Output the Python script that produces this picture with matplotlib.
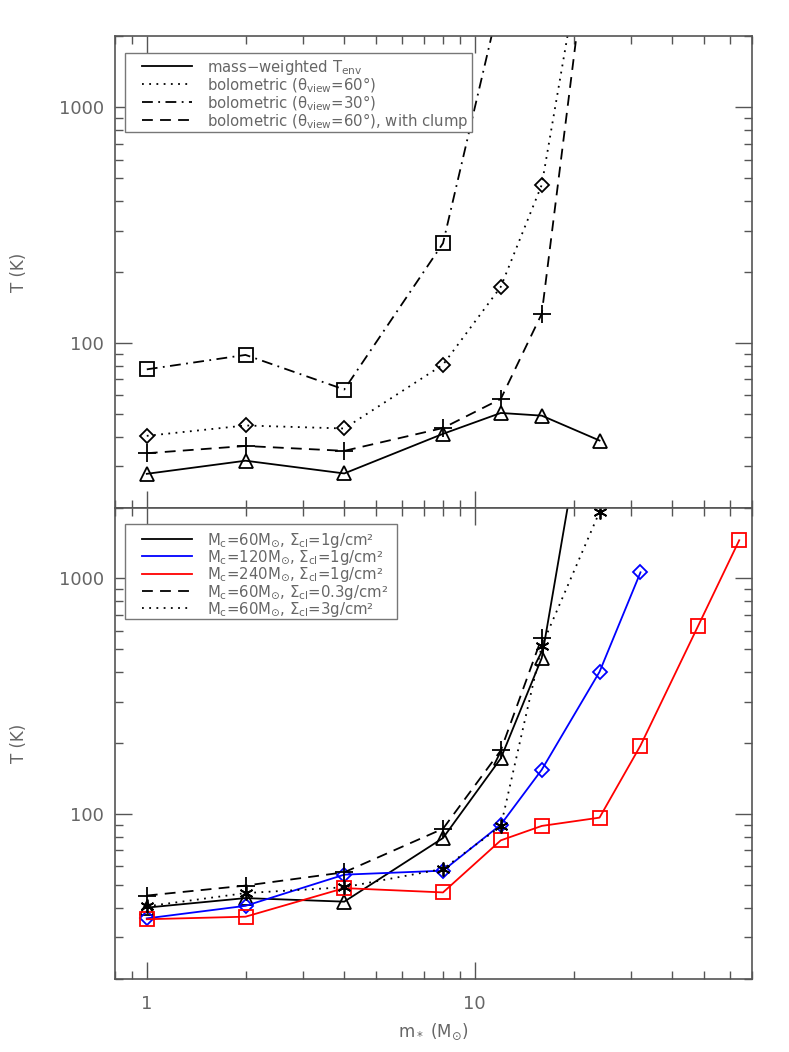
"""
Envelope temperature vs stellar mass, two stacked log-log panels.
"""
import numpy as np
import matplotlib
matplotlib.use("Agg")
import matplotlib.pyplot as plt
from matplotlib.lines import Line2D
from matplotlib.patches import Rectangle
from matplotlib.ticker import LogLocator, NullFormatter, FixedLocator, FixedFormatter

## DATA -------------------------------------------------------------
# top panel: Mc=60 Msun, Sigma=1 g/cm2
m_mw = [1, 2, 4, 8, 12, 16, 24]
T_mw = [27.8, 31.6, 27.9, 41.1, 50.4, 49.1, 38.5]
m_bol60 = [1, 2, 4, 8, 12, 16, 24]
T_bol60 = [40.3, 44.6, 43.3, 80.8, 173, 469, 12300]
m_bol30 = [1, 2, 4, 8, 12]
T_bol30 = [77.2, 88.9, 63.4, 265, 2950]
m_clump = [1, 2, 4, 8, 12, 16, 24]
T_clump = [34.0, 36.5, 34.8, 43.5, 57.8, 133, 12200]

top_labels = [r'mass$-$weighted T$_{\rm env}$',
              r'bolometric ($\theta_{\rm view}$=60°)',
              r'bolometric ($\theta_{\rm view}$=30°)',
              r'bolometric ($\theta_{\rm view}$=60°), with clump']

# bottom panel: bolometric temperatures for different clouds
m_60_1 = [1, 2, 4, 8, 12, 16, 24]
T_60_1 = [40.0, 43.9, 42.4, 79, 172, 459, 12300]
m_120_1 = [1, 2, 4, 8, 12, 16, 24, 32]
T_120_1 = [36.0, 40.7, 55.2, 57.4, 90, 154, 401, 1061]
m_240_1 = [1, 2, 4, 8, 12, 16, 24, 32, 48, 64]
T_240_1 = [35.7, 36.6, 48.4, 46.4, 77.2, 88.9, 96.4, 195, 630, 1452]
m_60_03 = [1, 2, 4, 8, 12, 16]
T_60_03 = [45.0, 49.6, 56.5, 86.5, 186, 560]
m_60_3 = [1, 2, 4, 8, 12, 16, 24]
T_60_3 = [40.5, 46.1, 48.8, 58.4, 88.6, 517, 1915]

bot_labels = [r'M$_{\rm c}$=60M$_{\odot}$, $\Sigma_{\rm cl}$=1g/cm²',
              r'M$_{\rm c}$=120M$_{\odot}$, $\Sigma_{\rm cl}$=1g/cm²',
              r'M$_{\rm c}$=240M$_{\odot}$, $\Sigma_{\rm cl}$=1g/cm²',
              r'M$_{\rm c}$=60M$_{\odot}$, $\Sigma_{\rm cl}$=0.3g/cm²',
              r'M$_{\rm c}$=60M$_{\odot}$, $\Sigma_{\rm cl}$=3g/cm²']

x_lim = [0.8, 70]
y_lim = [20, 2000]

## STYLE -------------------------------------------------------------
txt_col = '#666666'
ax_col = '#555555'
plt.rcParams['mathtext.default'] = 'regular'
plt.rcParams['font.family'] = ['DejaVu Sans']

lw = 1.3
ls_solid = '-'
ls_dot = (0, (1, 3))
ls_dash = (0, (6, 4))
ls_dashdot = (0, (6, 3, 1, 3))
asterisk = (6, 2, 0)

W, H = 789.0, 1052.0
fig = plt.figure(figsize=(W / 100, H / 100), dpi=100)
L, R = 115 / W, 752 / W
ax1 = fig.add_axes([L, 1 - 507.5 / H, R - L, 471 / H])
ax2 = fig.add_axes([L, 1 - 978.5 / H, R - L, 471 / H])


def style_axis(ax, xlabels):
    ax.set_xscale('log')
    ax.set_yscale('log')
    ax.set_xlim(x_lim)
    ax.set_ylim(y_lim)
    for s in ax.spines.values():
        s.set_color(ax_col)
        s.set_linewidth(1.2)
    ax.xaxis.set_major_locator(FixedLocator([1, 10]))
    ax.xaxis.set_minor_locator(LogLocator(base=10, subs=np.arange(2, 10)))
    ax.yaxis.set_major_locator(FixedLocator([100, 1000]))
    ax.yaxis.set_minor_locator(LogLocator(base=10, subs=np.arange(2, 10)))
    ax.xaxis.set_minor_formatter(NullFormatter())
    ax.yaxis.set_minor_formatter(NullFormatter())
    if xlabels:
        ax.xaxis.set_major_formatter(FixedFormatter(['1', '10']))
    else:
        ax.xaxis.set_major_formatter(NullFormatter())
    ax.yaxis.set_major_formatter(FixedFormatter(['100', '1000']))
    ax.tick_params(which='both', direction='in', top=True, right=True,
                   colors=ax_col, labelcolor=txt_col, labelsize=13)
    ax.tick_params(which='major', length=12, width=1.0, pad=8)
    ax.tick_params(axis='x', which='major', pad=12)
    ax.tick_params(which='minor', length=6, width=1.0)
    ax.set_ylabel('T (K)', color=txt_col, fontsize=12, labelpad=22)


def manual_legend(styles, labels, box, row0, drow):
    # box and rows in figure pixels (from top-left corner)
    x0, y0, x1, y1 = box
    fig.add_artist(Rectangle((x0 / W, 1 - y1 / H), (x1 - x0) / W, (y1 - y0) / H,
                             transform=fig.transFigure, facecolor='white',
                             edgecolor='#777777', lw=1.0, zorder=3))
    for i, ((col, ls), lab) in enumerate(zip(styles, labels)):
        yy = row0 + i * drow
        fig.add_artist(Line2D([142 / W, 192 / W], [1 - yy / H, 1 - yy / H],
                              transform=fig.transFigure, color=col, lw=lw,
                              linestyle=ls, zorder=4))
        fig.text(207 / W, 1 - (yy + 6.0) / H, lab, color=txt_col,
                 fontsize=10.75, va='baseline', ha='left', zorder=4)


## TOP PANEL ---------------------------------------------------------
ax1.plot(m_mw, T_mw, linestyle=ls_solid, color='k', lw=lw, marker='^',
         ms=10, mfc='none', mec='k', mew=lw)
ax1.plot(m_bol60, T_bol60, linestyle=ls_dot, color='k', lw=lw, marker='D',
         ms=7, mfc='none', mec='k', mew=lw)
ax1.plot(m_bol30, T_bol30, linestyle=ls_dashdot, color='k', lw=lw, marker='s',
         ms=10, mfc='none', mec='k', mew=lw)
ax1.plot(m_clump, T_clump, linestyle=ls_dash, color='k', lw=lw, marker='+',
         ms=13, mec='k', mew=lw)
style_axis(ax1, False)

manual_legend([('k', ls_solid), ('k', ls_dot), ('k', ls_dashdot), ('k', ls_dash)],
              top_labels, (125, 53, 472, 132), 65.7, 18.2)

## BOTTOM PANEL ------------------------------------------------------
ax2.plot(m_60_1, T_60_1, linestyle=ls_solid, color='k', lw=lw, marker='^',
         ms=10, mfc='none', mec='k', mew=lw)
ax2.plot(m_120_1, T_120_1, linestyle=ls_solid, color='#0000ff', lw=lw,
         marker='D', ms=7, mfc='none', mec='#0000ff', mew=lw)
ax2.plot(m_240_1, T_240_1, linestyle=ls_solid, color='#ff0000', lw=lw,
         marker='s', ms=10, mfc='none', mec='#ff0000', mew=lw)
ax2.plot(m_60_03, T_60_03, linestyle=ls_dash, color='k', lw=lw, marker='+',
         ms=13, mec='k', mew=lw)
ax2.plot(m_60_3, T_60_3, linestyle=ls_dot, color='k', lw=lw, marker=asterisk,
         ms=10, mec='k', mew=lw)
style_axis(ax2, True)
ax2.set_xlabel(r'm$_*$ (M$_{\odot}$)', color=txt_col, fontsize=12, labelpad=6)

manual_legend([('k', ls_solid), ('#0000ff', ls_solid), ('#ff0000', ls_solid),
               ('k', ls_dash), ('k', ls_dot)],
              bot_labels, (125, 524, 397, 619), 538.7, 17.4)

fig.savefig('out.png', dpi=100)
